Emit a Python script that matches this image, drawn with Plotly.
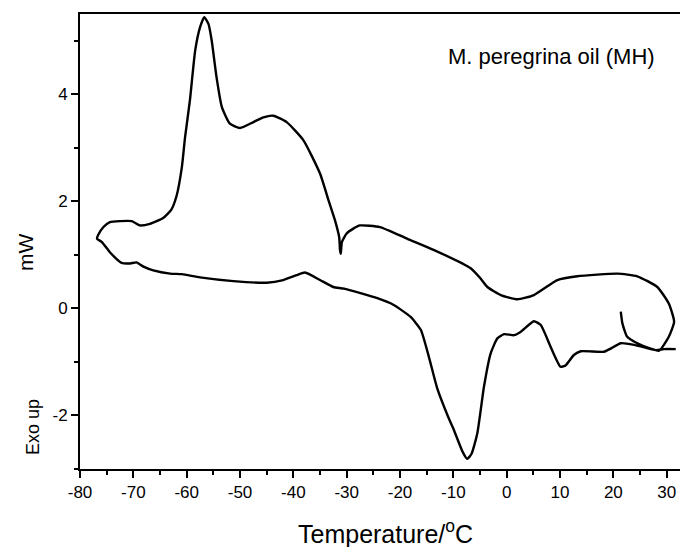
import plotly.graph_objects as go

# DSC trace: heating start transient, cooling scan (upper), heating scan (lower)
temp_c = [
    21.4, 21.7, 22.6, 24.5, 27.0, 28.6,
    30.4, 31.4, 30.4, 28.25, 24.5, 20.75, 13.25, 9.5, 5.1, 2.0, -1.1, -3.6, -4.9, -6.75,
    -13.6, -18.6, -23.75, -27.5, -28.75, -30.0, -30.9, -31.1, -31.25, -31.4, -32.2, -33.4,
    -35.0, -38.1, -41.25, -43.75, -45.6, -47.5, -50.0, -51.9, -53.4, -54.4, -55.3, -55.9,
    -56.7, -57.5, -58.4, -59.4, -60.3, -60.9, -61.9, -62.9, -64.4, -66.9, -68.75, -70.3,
    -72.5, -74.4, -75.6, -76.6, -76.8,
    -75.9, -74.4, -72.2, -70.6, -69.4, -68.1, -66.25, -63.1, -60.9, -57.5, -51.25, -45.0,
    -41.9, -39.4, -37.8, -35.0, -32.5, -30.5, -24.25, -21.1, -18.0, -16.1, -14.6, -13.0,
    -11.0, -9.9, -8.3, -7.4, -6.6, -5.5, -4.25, -3.0, -1.75, -0.5, 1.4, 2.6, 5.1, 6.4, 8.25,
    10.1, 11.1, 12.6, 13.9, 18.25, 19.5, 21.4, 23.9, 28.0, 29.5, 31.7,
]
heat_flow_mw = [
    -0.06, -0.28, -0.53, -0.65, -0.75, -0.79,
    -0.53, -0.25, 0.09, 0.40, 0.60, 0.65, 0.60, 0.53, 0.25, 0.17, 0.25, 0.40, 0.56, 0.75,
    1.09, 1.30, 1.52, 1.55, 1.49, 1.40, 1.24, 1.02, 1.09, 1.33, 1.65, 2.02,
    2.52, 3.14, 3.48, 3.60, 3.57, 3.48, 3.37, 3.45, 3.76, 4.32, 5.00, 5.31,
    5.44, 5.25, 4.82, 3.88, 3.20, 2.64, 2.10, 1.84, 1.69, 1.58, 1.55, 1.63,
    1.63, 1.61, 1.52, 1.37, 1.30,
    1.24, 1.05, 0.85, 0.84, 0.86, 0.78, 0.71, 0.65, 0.64, 0.58, 0.51, 0.48,
    0.53, 0.62, 0.67, 0.53, 0.40, 0.37, 0.19, 0.06, -0.16, -0.40, -0.90, -1.50,
    -2.02, -2.27, -2.67, -2.81, -2.72, -2.33, -1.46, -0.84, -0.56, -0.48, -0.50, -0.44, -0.24, -0.31, -0.72,
    -1.09, -1.06, -0.87, -0.80, -0.81, -0.75, -0.65, -0.68, -0.78, -0.76, -0.76,
]

x_tick_vals = [-80, -70, -60, -50, -40, -30, -20, -10, 0, 10, 20, 30]
x_tick_text = ["-80", "-70", "-60", "-50", "-40", "-30", "-20", "-10", "0", "10", "20", "30"]
y_tick_vals = [-2, 0, 2, 4]
y_tick_text = ["-2", "0", "2", "4"]

FONT = "Liberation Sans, Arial, sans-serif"

fig = go.Figure()
fig.add_trace(go.Scatter(
    x=temp_c, y=heat_flow_mw, mode="lines",
    line=dict(color="black", width=2.4, shape="spline", smoothing=0.5),
    showlegend=False, hoverinfo="skip",
))

# page body has an 8px margin; figure sized so the plot box lands at x 80..688, y 14..469
fig.update_layout(
    width=680, height=539,
    margin=dict(l=72, r=0, t=6, b=78),
    paper_bgcolor="white", plot_bgcolor="white",
    font=dict(family=FONT, color="black", size=17),
    xaxis=dict(
        range=[-80, 34], showgrid=False, zeroline=False,
        showline=True, linecolor="black", linewidth=2, mirror=True,
        ticks="outside", ticklen=7, tickwidth=2, tickcolor="black",
        tickvals=x_tick_vals, ticktext=x_tick_text,
        tickfont=dict(family=FONT, size=17),
        minor=dict(dtick=5, tick0=0, ticks="outside", ticklen=4, tickwidth=2, tickcolor="black"),
    ),
    yaxis=dict(
        range=[-3, 5.5], showgrid=False, zeroline=False,
        showline=True, linecolor="black", linewidth=2, mirror=False,
        ticks="outside", ticklen=7, tickwidth=2, tickcolor="black",
        tickvals=y_tick_vals, ticktext=y_tick_text,
        tickfont=dict(family=FONT, size=17),
        minor=dict(dtick=1, tick0=0, ticks="outside", ticklen=4, tickwidth=2, tickcolor="black"),
    ),
    annotations=[
        dict(text="Temperature/<sup>o</sup>C", xref="paper", yref="paper",
             x=(385 - 80) / 608, y=-(532 - 469) / 455, xanchor="center", yanchor="middle",
             showarrow=False, font=dict(family=FONT, size=25)),
        dict(text="mW", xref="paper", yref="paper", textangle=-90,
             x=-(80 - 25) / 608, y=(469 - 253) / 455, xanchor="center", yanchor="middle",
             showarrow=False, font=dict(family=FONT, size=21)),
        dict(text="Exo up", xref="paper", yref="paper", textangle=-90,
             x=-(80 - 33) / 608, y=(469 - 427) / 455, xanchor="center", yanchor="middle",
             showarrow=False, font=dict(family=FONT, size=18)),
        dict(text="M. peregrina oil (MH)", xref="paper", yref="paper",
             x=(551 - 80) / 608, y=(469 - 56) / 455, xanchor="center", yanchor="middle",
             showarrow=False, font=dict(family=FONT, size=22)),
    ],
)

fig.write_html("out.html")
